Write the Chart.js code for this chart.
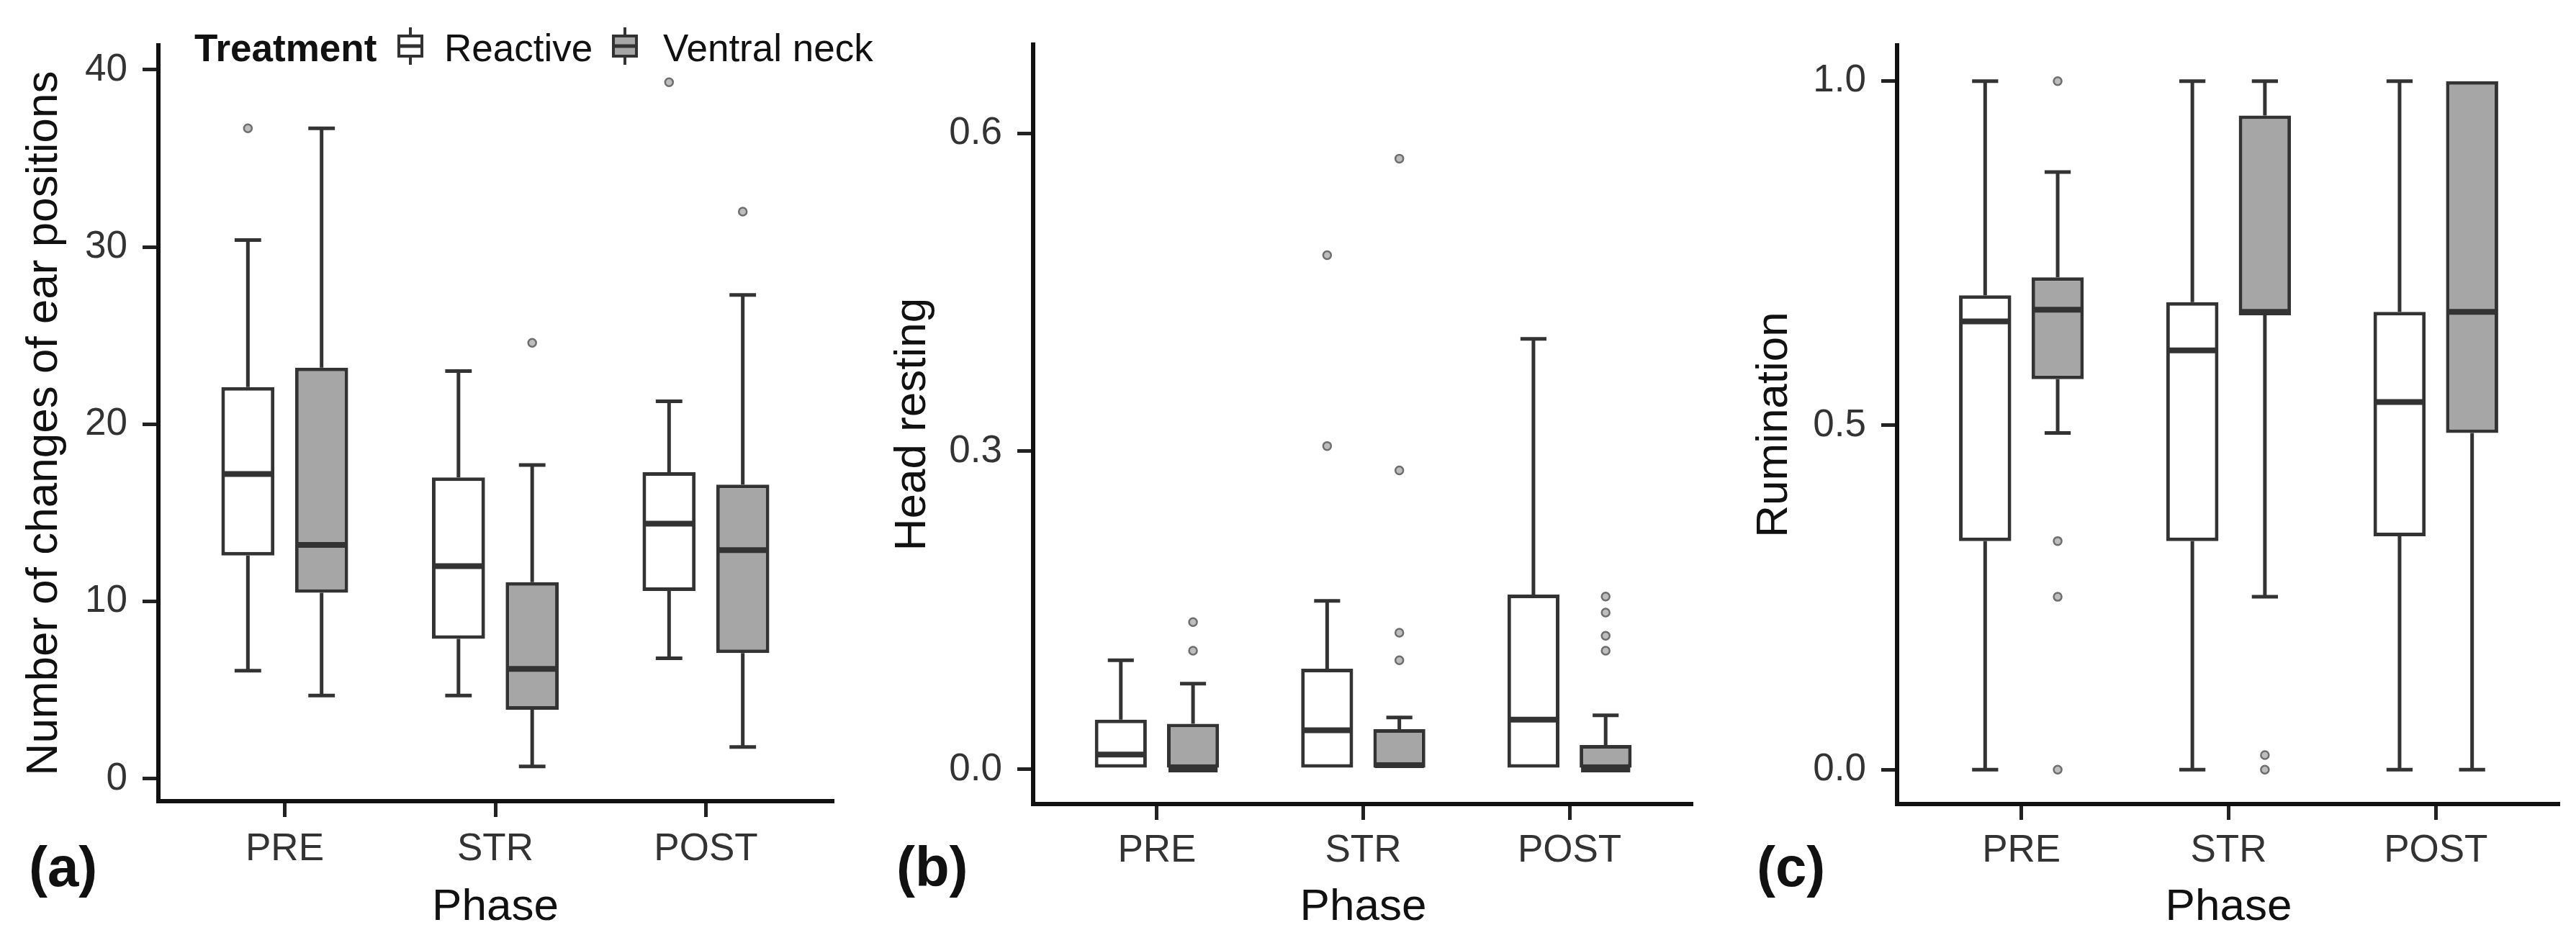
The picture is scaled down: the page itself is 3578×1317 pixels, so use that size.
<!DOCTYPE html>
<html>
<head>
<meta charset="utf-8">
<script src="https://cdn.jsdelivr.net/npm/chart.js@4.4.1/dist/chart.umd.min.js"></script>
<style>
  html, body { margin: 0; padding: 0; background: #fff; }
  body { width: 3578px; height: 1317px; position: relative; overflow: hidden; font-family: 'Liberation Sans', Arial, sans-serif; }
  .panel { position: absolute; top: 0; height: 1317px; }
  .tag { position: absolute; top: 1165px; font-weight: bold; font-size: 78px; line-height: 1; color: #111; }
</style>
</head>
<body>
<div class="panel" style="left:1200px;width:1152px"><canvas id="chartB"></canvas></div>
<div class="panel" style="left:2400px;width:1156px"><canvas id="chartC"></canvas></div>
<div class="panel" style="left:0;width:1240px"><canvas id="chartA"></canvas></div>
<div class="tag" style="left:40px">(a)</div>
<div class="tag" style="left:1245px">(b)</div>
<div class="tag" style="left:2440px">(c)</div>
<script>
const phases = ['PRE', 'STR', 'POST'];
const treatments = ['Reactive', 'Ventral neck'];

// (a) number of changes of ear positions
const earTicks = [0, 10, 20, 30, 40];
const earLowR = [6.1, 4.7, 6.8];
const earQ1R = [12.6, 7.9, 10.6];
const earMedR = [17.2, 12.0, 14.4];
const earQ3R = [22.1, 17.0, 17.3];
const earHighR = [30.4, 23.0, 21.3];
const earOutR = [[36.7], [], [39.3]];
const earLowV = [4.7, 0.7, 1.8];
const earQ1V = [10.5, 3.9, 7.1];
const earMedV = [13.2, 6.2, 12.9];
const earQ3V = [23.2, 11.1, 16.6];
const earHighV = [36.7, 17.7, 27.3];
const earOutV = [[], [24.6], [32.0]];

// (b) head resting
const headTicks = [0, 0.3, 0.6];
const headLowR = [0, 0, 0];
const headQ1R = [0, 0, 0];
const headMedR = [0.014, 0.037, 0.047];
const headQ3R = [0.047, 0.095, 0.165];
const headHighR = [0.103, 0.159, 0.406];
const headOutR = [[], [0.485, 0.305], []];
const headLowV = [0, 0, 0];
const headQ1V = [0, 0, 0];
const headMedV = [0, 0.004, 0];
const headQ3V = [0.043, 0.038, 0.023];
const headHighV = [0.081, 0.049, 0.051];
const headOutV = [[0.139, 0.112], [0.576, 0.282, 0.129, 0.103], [0.163, 0.148, 0.126, 0.112]];

// (c) rumination
const rumTicks = [0, 0.5, 1.0];
const rumLowR = [0, 0, 0];
const rumQ1R = [0.332, 0.332, 0.339];
const rumMedR = [0.651, 0.609, 0.534];
const rumQ3R = [0.689, 0.679, 0.665];
const rumHighR = [1, 1, 1];
const rumOutR = [[], [], []];
const rumLowV = [0.489, 0.251, 0];
const rumQ1V = [0.567, 0.66, 0.489];
const rumMedV = [0.668, 0.665, 0.665];
const rumQ3V = [0.715, 0.95, 1.0];
const rumHighV = [0.868, 1.0, 1.0];
const rumOutV = [[1.0, 0.332, 0.251, 0], [0.021, 0], []];

const FONT = "'Liberation Sans', Arial, sans-serif";
Chart.defaults.font.family = FONT;
const INK = '#333';

function boxSet(label, fill, lo, q1, med, q3, hi, out) {
  return {
    label: label,
    data: phases.map((p, i) => ({ x: i, y: [q1[i], q3[i]] })),
    backgroundColor: fill,
    borderColor: INK,
    borderWidth: 5,
    borderSkipped: false,
    categoryPercentage: 0.7,
    barPercentage: 0.72,
    lo: lo, med: med, hi: hi, out: out
  };
}

// whiskers under the boxes, medians and outliers on top
const boxExtras = {
  id: 'boxExtras',
  beforeDatasetsDraw(chart) {
    const ctx = chart.ctx, ys = chart.scales.y;
    ctx.save();
    ctx.strokeStyle = INK;
    ctx.lineWidth = 5;
    chart.data.datasets.forEach((ds, i) => {
      chart.getDatasetMeta(i).data.forEach((bar, j) => {
        const cap = bar.width / 4;
        const q = ds.data[j].y;
        [[ds.lo[j], q[0]], [ds.hi[j], q[1]]].forEach(([end, edge]) => {
          if (end === edge) return;
          const pe = ys.getPixelForValue(end), pb = ys.getPixelForValue(edge);
          ctx.beginPath();
          ctx.moveTo(bar.x, pb); ctx.lineTo(bar.x, pe);
          ctx.moveTo(bar.x - cap, pe); ctx.lineTo(bar.x + cap, pe);
          ctx.stroke();
        });
      });
    });
    ctx.restore();
  },
  afterDatasetsDraw(chart) {
    const ctx = chart.ctx, ys = chart.scales.y;
    ctx.save();
    chart.data.datasets.forEach((ds, i) => {
      chart.getDatasetMeta(i).data.forEach((bar, j) => {
        const half = bar.width / 2 - 2;
        const pm = ys.getPixelForValue(ds.med[j]);
        ctx.strokeStyle = INK;
        ctx.lineWidth = 8;
        ctx.beginPath();
        ctx.moveTo(bar.x - half, pm); ctx.lineTo(bar.x + half, pm);
        ctx.stroke();
        ctx.strokeStyle = '#6e6e6e';
        ctx.fillStyle = '#bdbdbd';
        ctx.lineWidth = 2.5;
        ds.out[j].forEach(v => {
          ctx.beginPath();
          ctx.arc(bar.x, ys.getPixelForValue(v), 5.5, 0, Math.PI * 2);
          ctx.fill(); ctx.stroke();
        });
      });
    });
    ctx.restore();
  }
};

const treatmentLegend = {
  id: 'treatmentLegend',
  afterDraw(chart) {
    const ctx = chart.ctx, cy = 64;
    const keys = [{ cx: 570, tx: 617 }, { cx: 868, tx: 921 }];
    ctx.save();
    ctx.textBaseline = 'alphabetic';
    ctx.fillStyle = '#111';
    ctx.font = 'bold 53px ' + FONT;
    ctx.fillText('Treatment', 270, 85);
    chart.data.datasets.forEach((ds, i) => {
      const k = keys[i];
      ctx.strokeStyle = INK;
      ctx.lineWidth = 4;
      ctx.beginPath();
      ctx.moveTo(k.cx, cy - 26); ctx.lineTo(k.cx, cy + 26);
      ctx.stroke();
      ctx.fillStyle = ds.backgroundColor;
      ctx.fillRect(k.cx - 16, cy - 14, 32, 28);
      ctx.strokeRect(k.cx - 16, cy - 14, 32, 28);
      ctx.lineWidth = 5;
      ctx.beginPath();
      ctx.moveTo(k.cx - 16, cy); ctx.lineTo(k.cx + 16, cy);
      ctx.stroke();
      ctx.fillStyle = '#111';
      ctx.font = '53px ' + FONT;
      ctx.fillText(ds.label, k.tx, 85);
    });
    ctx.restore();
  }
};

function makePanel(id, p) {
  const plugins = [boxExtras];
  if (p.legend) plugins.push(treatmentLegend);
  return new Chart(document.getElementById(id), {
    type: 'bar',
    data: {
      datasets: [
        boxSet(treatments[0], '#ffffff', p.r[0], p.r[1], p.r[2], p.r[3], p.r[4], p.r[5]),
        boxSet(treatments[1], '#a6a6a6', p.v[0], p.v[1], p.v[2], p.v[3], p.v[4], p.v[5])
      ]
    },
    plugins: plugins,
    options: {
      responsive: true,
      maintainAspectRatio: false,
      animation: false,
      events: [],
      layout: { padding: { top: p.top, left: 0, right: p.right, bottom: 0 } },
      plugins: { legend: { display: false }, tooltip: { enabled: false } },
      scales: {
        x: {
          type: 'linear', min: -0.6, max: 2.6, bounds: 'data', offset: false,
          afterBuildTicks: s => { s.ticks = phases.map((ph, i) => ({ value: i })); },
          afterFit: s => { s.height = p.xHeight; },
          ticks: { callback: v => phases[v], font: { size: 53 }, color: INK, padding: p.xPad, autoSkip: false, maxRotation: 0 },
          grid: { offset: false, drawOnChartArea: false, tickLength: 22, lineWidth: 5, color: '#222' },
          border: { display: true, color: '#111', width: 6 },
          title: { display: true, text: 'Phase', font: { size: 62 }, color: '#111', padding: { top: 0, bottom: 19 } }
        },
        y: {
          min: p.min, max: p.max, bounds: 'data',
          afterBuildTicks: s => { s.ticks = p.ticks.map(v => ({ value: v })); },
          afterFit: s => { s.width = p.yWidth; },
          ticks: { callback: v => v.toFixed(p.dec), font: { size: 53 }, color: INK, padding: 21, autoSkip: false },
          grid: { drawOnChartArea: false, tickLength: 22, lineWidth: 5, color: '#222' },
          border: { display: true, color: '#111', width: 6 },
          title: { display: true, text: p.title, font: { size: 62 }, color: '#111', padding: { top: p.titlePad, bottom: 0 } }
        }
      }
    }
  });
}

makePanel('chartA', {
  title: 'Number of changes of ear positions', legend: true,
  min: -1.26, max: 41.38, ticks: earTicks, dec: 0,
  top: 63, right: 84, yWidth: 220, xHeight: 204, xPad: 14, titlePad: 25,
  r: [earLowR, earQ1R, earMedR, earQ3R, earHighR, earOutR],
  v: [earLowV, earQ1V, earMedV, earQ3V, earHighV, earOutV]
});
makePanel('chartB', {
  title: 'Head resting', legend: false,
  min: -0.0326, max: 0.6835, ticks: headTicks, dec: 1,
  top: 62, right: 0, yWidth: 235, xHeight: 200, xPad: 12, titlePad: 31,
  r: [headLowR, headQ1R, headMedR, headQ3R, headHighR, headOutR],
  v: [headLowV, headQ1V, headMedV, headQ3V, headHighV, headOutV]
});
makePanel('chartC', {
  title: 'Rumination', legend: false,
  min: -0.05, max: 1.052, ticks: rumTicks, dec: 1,
  top: 63, right: 0, yWidth: 235, xHeight: 200, xPad: 12, titlePad: 28,
  r: [rumLowR, rumQ1R, rumMedR, rumQ3R, rumHighR, rumOutR],
  v: [rumLowV, rumQ1V, rumMedV, rumQ3V, rumHighV, rumOutV]
});
</script>
</body>
</html>
